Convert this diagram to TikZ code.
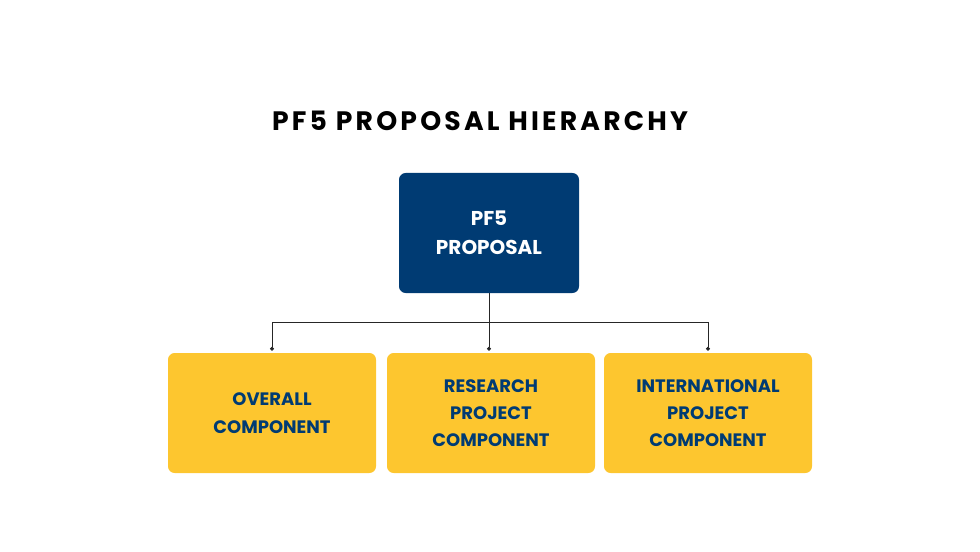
\documentclass[tikz,border=0pt]{standalone}
\usepackage{fontspec}
\setmainfont{Poppins}
\newfontfamily\titlefont[LetterSpace=12]{Poppins}
\usetikzlibrary{positioning, arrows.meta}
\definecolor{pfblue}{HTML}{003B73}
\definecolor{pfyellow}{HTML}{FDC62F}
\begin{document}
\begin{tikzpicture}[x=0.75pt, y=-0.75pt,
	every node/.style={font=\bfseries},
	>={Circle[length=3pt]},
	]
	\tikzset{
		box/.style={rounded corners=5pt, align=center, inner sep=0pt},
		topbox/.style={box, fill=pfblue, text=white, minimum width=135pt, minimum height=90pt, font=\bfseries\fontsize{15}{22}\selectfont},
		leaf/.style={box, fill=pfyellow, text=pfblue, minimum width=156pt, minimum height=90pt, font=\bfseries\fontsize{13.5}{20.5}\selectfont},
		link/.style={->, draw, line width=0.6pt, black!85}
	}
	\useasboundingbox (0,0) rectangle (980,552);
	\node[font=\titlefont\bfseries\fontsize{20}{24}\selectfont] (title) at (480,121) {PF5 PROPOSAL HIERARCHY};

	\node[topbox] (root) at (489,233) {PF5\\PROPOSAL};
	\node[leaf] (overall) at (272,413) {OVERALL\\COMPONENT};
	\node[leaf] (research) at (491,413) {RESEARCH\\PROJECT\\COMPONENT};
	\node[leaf] (intl) at (708,413) {INTERNATIONAL\\PROJECT\\COMPONENT};

	\coordinate (split) at (489,322);
	\draw[link] (root.south) -- (split) -| ([yshift=1.5pt]overall.north);
	\draw[link] (split) -| ([yshift=1.5pt]intl.north);
	\draw[link] (split) -- ([yshift=1.5pt]research.north -| split);
\end{tikzpicture}
\end{document}
